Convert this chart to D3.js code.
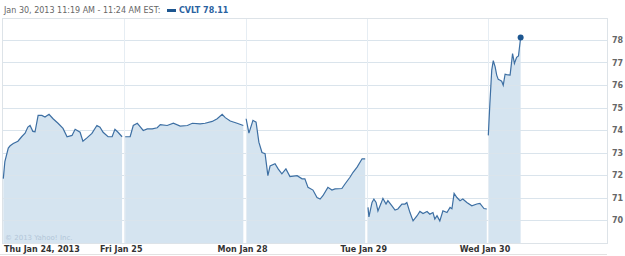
<!DOCTYPE html>
<html lang="en">
<head>
    <meta charset="UTF-8">
    <title>CVLT</title>
    <script src="https://cdn.jsdelivr.net/npm/d3@7"></script>
    <style>
        body { margin: 0; background: #fff; }
        text { font-family: "DejaVu Sans", sans-serif; }
        .grid line { stroke: #dae4ec; shape-rendering: crispEdges; }
        .yaxis text { font-size: 8px; fill: #666; font-weight: bold; }
        .xaxis text { font-size: 8px; fill: #333; font-weight: bold; }
    </style>
</head>
<body>
<script>
    // minutes after the open (9:30) and prices, one pair of arrays per day
    const thuMin = [1, 6, 17, 23, 33, 48, 60, 71, 80, 87, 96, 103, 113, 125, 135, 148, 161, 177, 193, 206, 222, 232, 248, 257, 270, 286, 302, 312, 322, 338, 351, 360, 370, 383]
    const thuPx = [71.84, 72.6, 73.2, 73.3, 73.4, 73.5, 73.7, 73.86, 74.13, 74.2, 73.94, 73.92, 74.65, 74.65, 74.58, 74.7, 74.5, 74.3, 74.07, 73.7, 73.76, 74.03, 73.9, 73.5, 73.65, 73.85, 74.2, 74.12, 73.9, 73.7, 73.7, 74.03, 73.9, 73.7]

    const friMin = [3, 19, 29, 42, 51, 61, 74, 90, 106, 116, 138, 158, 180, 203, 219, 244, 260, 283, 299, 315, 325, 341, 363, 383]
    const friPx = [73.7, 73.7, 74.2, 74.3, 74.15, 73.98, 74.05, 74.05, 74.1, 74.24, 74.2, 74.3, 74.17, 74.2, 74.3, 74.27, 74.3, 74.38, 74.5, 74.7, 74.55, 74.4, 74.3, 74.2]

    const monMin = [2, 11, 24, 34, 43, 53, 63, 72, 79, 95, 105, 117, 130, 143, 166, 182, 191, 201, 217, 230, 240, 249, 265, 278, 288, 310, 320, 336, 346, 359, 375, 385]
    const monPx = [74.5, 73.86, 74.43, 74.35, 73.46, 73.0, 72.95, 71.97, 72.4, 72.5, 72.27, 72.05, 72.27, 71.93, 71.97, 71.83, 71.83, 71.45, 71.33, 71.0, 70.93, 71.08, 71.45, 71.33, 71.38, 71.4, 71.6, 71.9, 72.12, 72.35, 72.72, 72.72]

    const tueMin = [4, 7, 17, 23, 30, 36, 46, 52, 62, 68, 81, 91, 100, 113, 123, 129, 139, 149, 162, 171, 181, 194, 203, 213, 219, 226, 235, 245, 258, 268, 274, 281, 290, 300, 309, 322, 338, 354, 364, 377, 386]
    const tuePx = [70.56, 70.14, 70.78, 70.93, 70.78, 70.4, 70.74, 70.96, 70.71, 70.86, 70.63, 70.44, 70.49, 70.71, 70.71, 70.78, 70.33, 69.96, 70.19, 70.38, 70.29, 70.38, 70.26, 70.33, 70.04, 70.19, 69.96, 70.41, 70.33, 70.56, 70.5, 71.18, 71.0, 70.86, 70.93, 70.78, 70.63, 70.71, 70.74, 70.51, 70.49]

    const wedMin = [1, 6, 12, 17, 23, 28, 33, 39, 44, 49, 55, 60, 71, 76, 79, 85, 92, 98, 105]
    const wedPx = [73.76, 75.17, 76.66, 77.08, 76.81, 76.44, 76.25, 76.21, 76.17, 75.99, 76.48, 76.46, 76.44, 77.03, 77.4, 76.96, 77.23, 77.29, 78.11]

    const dayLabels = ['Thu Jan 24, 2013', 'Fri Jan 25', 'Mon Jan 28', 'Tue Jan 29', 'Wed Jan 30']
    const yTicks = [70, 71, 72, 73, 74, 75, 76, 77, 78]

    const dayLen = 390
    const days = [[thuMin, thuPx], [friMin, friPx], [monMin, monPx], [tueMin, tuePx], [wedMin, wedPx]]
        .map((d, i) => d[0].map((m, j) => ({ t: i * dayLen + m, v: d[1][j] })))

    const width = 625
    const height = 256
    const pLeft = 2, pRight = 607, pTop = 18, pBottom = 243

    const svg = d3.select('body').append('svg').attr('width', width).attr('height', height)

    const x = d3.scaleLinear().domain([0, 5 * dayLen]).range([3, 609.25])
    const y = d3.scaleLinear().domain([69, 79]).range([242.5, 17.5])

    svg.append('clipPath').attr('id', 'plot')
        .append('rect').attr('x', pLeft).attr('y', pTop).attr('width', pRight - pLeft).attr('height', pBottom - pTop)

    // fill under each day
    const area = d3.area().x(d => x(d.t)).y0(pBottom).y1(d => y(d.v))
    svg.append('g').attr('clip-path', 'url(#plot)')
        .selectAll('path').data(days).enter().append('path')
        .attr('d', area).attr('fill', '#d5e4f0')

    // grid
    const grid = svg.append('g').attr('class', 'grid')
    grid.selectAll('.h').data(yTicks).enter().append('line')
        .attr('x1', pLeft).attr('x2', pRight)
        .attr('y1', d => Math.round(y(d)) + 0.5).attr('y2', d => Math.round(y(d)) + 0.5)
    grid.selectAll('.v').data(d3.range(1, 5)).enter().append('line')
        .attr('x1', d => Math.round(x(d * dayLen)) + 0.5).attr('x2', d => Math.round(x(d * dayLen)) + 0.5)
        .attr('y1', pTop).attr('y2', pBottom)
        .style('stroke', '#e6edf3')

    // frame
    svg.append('rect').attr('x', pLeft + 0.5).attr('y', pTop + 0.5)
        .attr('width', pRight - pLeft).attr('height', pBottom - pTop)
        .attr('fill', 'none').attr('stroke', '#dde3e8')
    svg.append('line').attr('x1', 0).attr('x2', pRight).attr('y1', 254.5).attr('y2', 254.5)
        .attr('stroke', '#e2e2e2')

    // price line
    const line = d3.line().x(d => x(d.t)).y(d => y(d.v))
    svg.append('g').selectAll('path').data(days).enter().append('path')
        .attr('d', line).attr('fill', 'none')
        .attr('stroke', '#3d6fa3').attr('stroke-width', 1.2)

    const last = days[4][days[4].length - 1]
    svg.append('circle').attr('cx', x(last.t)).attr('cy', y(last.v)).attr('r', 3)
        .attr('fill', '#1d5690')

    // y axis
    const yAxis = d3.axisRight(y).tickValues(yTicks).tickSize(0).tickPadding(5)
    svg.append('g').attr('class', 'yaxis')
        .attr('transform', 'translate(' + pRight + ',0)')
        .call(yAxis)
        .call(g => g.select('.domain').remove())

    // x labels
    svg.append('g').attr('class', 'xaxis').selectAll('text').data(dayLabels).enter().append('text')
        .attr('x', (d, i) => i == 0 ? 4 : x(i * dayLen) - 3)
        .attr('y', 252)
        .attr('text-anchor', (d, i) => i == 0 ? 'start' : 'middle')
        .text(d => d)

    svg.append('text').attr('x', 5).attr('y', 240)
        .attr('font-size', 7).attr('fill', '#b3c6d8')
        .text('© 2013 Yahoo! Inc.')

    // header
    svg.append('text').attr('x', 4).attr('y', 13)
        .attr('font-size', 8).attr('fill', '#666')
        .text('Jan 30, 2013 11:19 AM - 11:24 AM EST:')
    svg.append('rect').attr('x', 167).attr('y', 9).attr('width', 9).attr('height', 3)
        .attr('fill', '#1d5690')
    svg.append('text').attr('x', 179).attr('y', 13)
        .attr('font-size', 8).attr('font-weight', 'bold').attr('fill', '#2a62a0')
        .text('CVLT 78.11')
</script>
</body>
</html>
